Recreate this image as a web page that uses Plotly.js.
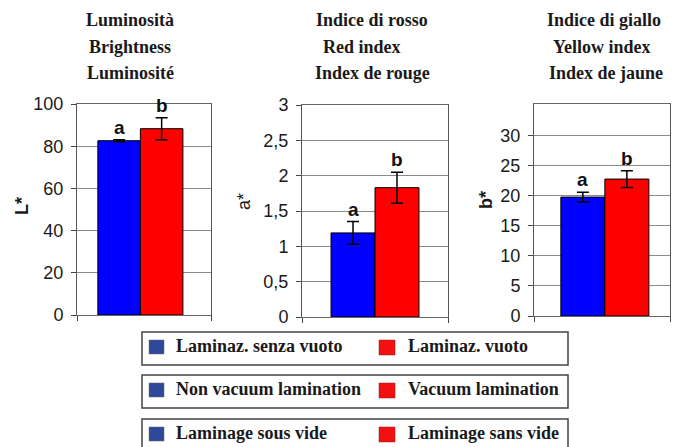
<!DOCTYPE html>
<html>
<head>
<meta charset="utf-8">
<script src="https://cdn.plot.ly/plotly-3.0.1.min.js"></script>
<style>html,body{margin:0;padding:0;background:#fff}#chart{width:677px;height:447px}</style>
</head>
<body>
<div id="chart"></div>
<script>
// ---- data ----
var treatments = ['Non vacuum lamination', 'Vacuum lamination'];
var lValues = [82.6, 88.3];
var lErrors = [0.5, 5.2];
var aValues = [1.19, 1.83];
var aErrors = [0.16, 0.22];
var bValues = [19.8, 22.8];
var bErrors = [0.8, 1.4];
var sigLetters = ['a', 'b'];

var titlesL = ['Luminosità', 'Brightness', 'Luminosité'];
var titlesA = ['Indice di rosso', 'Red index', 'Index de rouge'];
var titlesB = ['Indice di giallo', 'Yellow index', 'Index de jaune'];
var yTitles = ['L*', 'a*', 'b*'];

var lTicks = [0, 20, 40, 60, 80, 100];
var aTicks = [0, 0.5, 1, 1.5, 2, 2.5, 3];
var aTickText = ['0', '0,5', '1', '1,5', '2', '2,5', '3'];
var bTicks = [0, 5, 10, 15, 20, 25, 30];

var legendBlue = ['Laminaz. senza vuoto', 'Non vacuum lamination', 'Laminage sous vide'];
var legendRed = ['Laminaz. vuoto', 'Vacuum lamination', 'Laminage sans vide'];

// ---- styling / layout ----
var W = 677, H = 447;
function px(x) { return x / W; }
function py(y) { return 1 - y / H; }
var barColors = ['#0000FF', '#FF0000'];
var serif = 'Liberation Serif';
var sans = 'Liberation Sans';

var panels = [
  {vals: lValues, errs: lErrors, xd: [77, 211], yd: [104, 315], xr: [-0.99, 2.16], yr: [0, 100], tv: lTicks, tt: null, titles: titlesL, tcx: [130, 130, 130], ytx: 22, yty: 206, ytBold: true},
  {vals: aValues, errs: aErrors, xd: [302, 448], yd: [105, 317], xr: [-1.16, 2.16], yr: [0, 3], tv: aTicks, tt: aTickText, titles: titlesA, tcx: [372, 362, 372], ytx: 244, yty: 202, ytBold: false},
  {vals: bValues, errs: bErrors, xd: [534, 670], yd: [104, 316], xr: [-1.11, 1.98], yr: [0, 35.3], tv: bTicks, tt: null, titles: titlesB, tcx: [604, 602, 606], ytx: 486, yty: 200, ytBold: true}
];

var traces = [];
var layout = {
  width: W, height: H,
  margin: {l: 0, r: 0, t: 0, b: 0},
  paper_bgcolor: '#fff', plot_bgcolor: '#fff',
  showlegend: false,
  bargap: 0,
  annotations: [],
  shapes: []
};

var titleY = [20, 47, 73];

panels.forEach(function (p, i) {
  var n = i === 0 ? '' : String(i + 1);
  traces.push({
    type: 'bar',
    x: [0, 1],
    y: p.vals,
    width: 1,
    xaxis: 'x' + n, yaxis: 'y' + n,
    marker: {color: barColors, line: {color: '#000', width: 1}},
    error_y: {type: 'data', array: p.errs, visible: true, color: '#000', thickness: 1.5, width: 6},
    hoverinfo: 'skip',
    cliponaxis: false
  });
  layout['xaxis' + n] = {
    domain: [px(p.xd[0]), px(p.xd[1])],
    range: p.xr,
    anchor: 'y' + n,
    showgrid: false, zeroline: false,
    showline: true, linecolor: '#666', linewidth: 1, mirror: true,
    ticks: 'outside', ticklen: 5, tickcolor: '#444',
    tickvals: p.xr, showticklabels: false,
    fixedrange: true
  };
  layout['yaxis' + n] = {
    domain: [py(p.yd[1]), py(p.yd[0])],
    range: p.yr,
    anchor: 'x' + n,
    tickvals: p.tv,
    ticktext: p.tt || p.tv.map(String),
    showgrid: true, gridcolor: '#8a8a8a', gridwidth: 1,
    zeroline: false,
    showline: true, linecolor: '#555', linewidth: 1, mirror: true,
    ticks: 'outside', ticklen: 5, tickcolor: '#444',
    ticklabelstandoff: 4,
    tickfont: {family: sans, size: 18, color: '#1a1a1a'},
    fixedrange: true
  };
  // significance letters
  for (var k = 0; k < p.vals.length; k++) {
    layout.annotations.push({
      xref: 'x' + n, yref: 'y' + n,
      x: k, y: p.vals[k] + p.errs[k],
      yanchor: 'bottom', yshift: 0,
      text: '<b>' + sigLetters[k] + '</b>',
      showarrow: false,
      font: {family: sans, size: 19, color: '#111'}
    });
  }
  // panel titles
  p.titles.forEach(function (t, j) {
    layout.annotations.push({
      xref: 'paper', yref: 'paper',
      x: px(p.tcx[j]), y: py(titleY[j]),
      xanchor: 'center', yanchor: 'middle',
      text: '<b>' + t + '</b>',
      showarrow: false,
      font: {family: serif, size: 18, color: '#1a1a1a'}
    });
  });
  // y title
  layout.annotations.push({
    xref: 'paper', yref: 'paper',
    x: px(p.ytx), y: py(p.yty),
    xanchor: 'center', yanchor: 'middle',
    textangle: -90,
    text: p.ytBold ? '<b>' + yTitles[i] + '</b>' : yTitles[i],
    showarrow: false,
    font: {family: sans, size: 18, color: '#1a1a1a'}
  });
});

// ---- legend boxes ----
var boxTop = [332, 375, 419];
var boxH = 33;
var legendSquareBlue = '#30489A';
boxTop.forEach(function (top, r) {
  layout.shapes.push({
    type: 'rect', xref: 'paper', yref: 'paper',
    x0: px(142), x1: px(568), y0: py(top), y1: py(top + boxH),
    line: {color: '#444', width: 1.5}, fillcolor: 'rgba(0,0,0,0)'
  });
  var cy = top + 15;
  layout.shapes.push({
    type: 'rect', xref: 'paper', yref: 'paper',
    x0: px(149), x1: px(164), y0: py(cy - 7), y1: py(cy + 7),
    line: {color: '#666', width: 0.5}, fillcolor: legendSquareBlue
  });
  layout.shapes.push({
    type: 'rect', xref: 'paper', yref: 'paper',
    x0: px(379), x1: px(395), y0: py(cy - 7), y1: py(cy + 8),
    line: {color: '#8a2020', width: 0.5}, fillcolor: '#F21010'
  });
  layout.annotations.push({
    xref: 'paper', yref: 'paper', x: px(174), y: py(cy - 1),
    xanchor: 'left', yanchor: 'middle', showarrow: false,
    text: '<b>' + legendBlue[r] + '</b>',
    font: {family: serif, size: 18, color: '#1a1a1a'}
  });
  layout.annotations.push({
    xref: 'paper', yref: 'paper', x: px(406), y: py(cy - 1),
    xanchor: 'left', yanchor: 'middle', showarrow: false,
    text: '<b>' + legendRed[r] + '</b>',
    font: {family: serif, size: 18, color: '#1a1a1a'}
  });
});

Plotly.newPlot('chart', traces, layout, {displayModeBar: false, staticPlot: true});
</script>
</body>
</html>
